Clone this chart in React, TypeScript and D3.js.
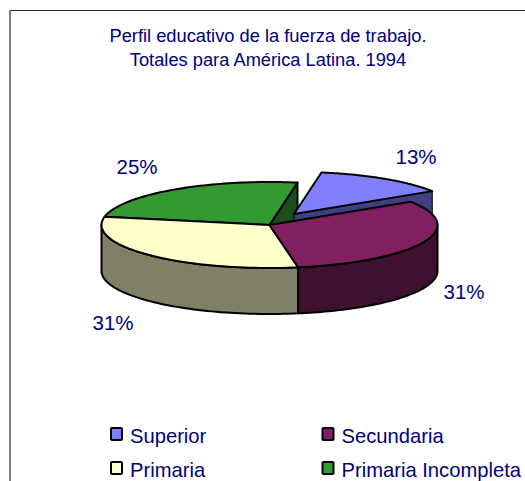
import React from "react";
import * as d3 from "d3";

const categories = ["Superior", "Secundaria", "Primaria", "Primaria Incompleta"];
const values = [13.2, 31.4, 30.8, 24.6];
const topColors = ["#8080ff", "#802060", "#ffffcc", "#339933"];
const sideColors = ["#404080", "#401030", "#808066", "#1a4d1a"];
const titleLines = ["Perfil educativo de la fuerza de trabajo.", "Totales para América Latina. 1994"];
const valueLabels = ["13%", "31%", "31%", "25%"];

const INK = "#000080";
const FONT = "'Liberation Sans', Arial, sans-serif";
const cx = 269.5, cy = 225, rx = 168, ry = 43, depth = 46;
const explodedShrink = 0.98;
const startAngle = (9.6 * Math.PI) / 180;
const explodeOffset: [number, number] = [24.5, -11];
const labelPos: [number, number][] = [[416, 164], [464, 299], [113, 330], [137, 174]];
const legendPos: [number, number][] = [[111, 428], [322.5, 428], [111, 462], [322.5, 462]];

const pieGen = d3.pie<number>().sort(null).startAngle(startAngle).endAngle(startAngle + 2 * Math.PI);
const arcs = pieGen(values);
const lineGen = d3.line<[number, number]>().x(d => d[0]).y(d => d[1]);

const pt = (a: number, ox: number, oy: number, dy = 0, k = 1): [number, number] => [
  cx + ox + k * rx * Math.sin(a),
  cy + oy - k * ry * Math.cos(a) + dy,
];
const samples = (a0: number, a1: number) => d3.range(0, 61).map(i => a0 + ((a1 - a0) * i) / 60);

function topPath(a0: number, a1: number, ox: number, oy: number, k: number) {
  const pts: [number, number][] = [[cx + ox, cy + oy], ...samples(a0, a1).map(a => pt(a, ox, oy, 0, k))];
  return lineGen(pts) + "Z";
}
function wallPath(a0: number, a1: number, ox: number, oy: number, k: number) {
  const s = samples(a0, a1);
  const pts = [...s.map(a => pt(a, ox, oy, 0, k)), ...s.slice().reverse().map(a => pt(a, ox, oy, depth, k))];
  return lineGen(pts) + "Z";
}
function cutPath(a: number, ox: number, oy: number, k: number) {
  const pts: [number, number][] = [
    [cx + ox, cy + oy], pt(a, ox, oy, 0, k), pt(a, ox, oy, depth, k), [cx + ox, cy + oy + depth],
  ];
  return lineGen(pts) + "Z";
}
function visibleWall(a0: number, a1: number): [number, number] | null {
  const lo = Math.max(a0, Math.PI / 2), hi = Math.min(a1, (3 * Math.PI) / 2);
  return hi > lo ? [lo, hi] : null;
}

function Slice({ i }: { i: number }) {
  const a = arcs[i];
  const [ox, oy] = i === 0 ? explodeOffset : [0, 0];
  const k = i === 0 ? explodedShrink : 1;
  const stroke = { stroke: "#000", strokeWidth: 2, strokeLinejoin: "round" as const };
  const wall = visibleWall(a.startAngle, a.endAngle);
  return (
    <g>
      {(i === 3 || i === 0) && <path d={cutPath(a.endAngle, ox, oy, k)} fill={sideColors[i]} {...stroke} strokeWidth={i === 0 ? 1 : 2} />}
      {wall && <path d={wallPath(wall[0], wall[1], ox, oy, k)} fill={sideColors[i]} {...stroke} />}
      <path d={topPath(a.startAngle, a.endAngle, ox, oy, k)} fill={topColors[i]} {...stroke} />
    </g>
  );
}

export default function App() {
  return (
    <svg width={525} height={481} style={{ position: "absolute", left: 0, top: 0 }} fontFamily={FONT}>
      <rect width={525} height={481} fill="#fff" />
      <line x1={10} x2={525} y1={10.5} y2={10.5} stroke="#222" strokeWidth={1} />
      <line x1={10} x2={10} y1={10} y2={481} stroke="#808080" strokeWidth={2} />
      {titleLines.map((t, i) => (
        <text key={t} x={268} y={42 + i * 24} textAnchor="middle" fontSize={18.3} fill={INK}>{t}</text>
      ))}
      {[3, 0, 2, 1].map(i => <Slice key={i} i={i} />)}
      {valueLabels.map((t, i) => (
        <text key={i} x={labelPos[i][0]} y={labelPos[i][1]} textAnchor="middle" fontSize={20.5} fill={INK}>{t}</text>
      ))}
      {categories.map((c, i) => (
        <g key={c}>
          <rect x={legendPos[i][0]} y={legendPos[i][1]} width={11} height={12} fill={topColors[i]} stroke="#000" strokeWidth={2} rx={1} />
          <text x={legendPos[i][0] + 19} y={legendPos[i][1] + 15} fontSize={20.2} fill={INK}>{c}</text>
        </g>
      ))}
    </svg>
  );
}
